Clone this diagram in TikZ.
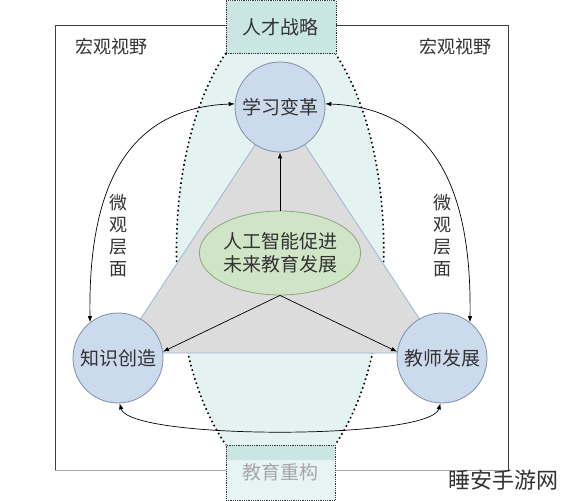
\documentclass[tikz,border=0pt]{standalone}
\usepackage{fontspec}
\setmainfont{Noto Sans CJK SC}
\usetikzlibrary{shapes.geometric,arrows.meta}
\definecolor{circfill}{HTML}{CCDAEE}
\definecolor{circline}{HTML}{7F8FA8}
\definecolor{trifill}{HTML}{DCDCDC}
\definecolor{triline}{HTML}{9FB5D0}
\definecolor{lensfill}{HTML}{E4F3F1}
\definecolor{boxfill}{HTML}{C9E6E4}
\definecolor{boxfilltwo}{HTML}{E6F4F4}
\definecolor{ellfill}{HTML}{CFE5C6}
\definecolor{ellline}{HTML}{8AA880}
\definecolor{txt}{HTML}{333333}
\tikzset{
  topic/.style={circle,draw=circline,fill=circfill,line width=0.8pt,minimum size=90pt,inner sep=0pt,font=\fontsize{19}{21}\selectfont,text=txt},
  core/.style={ellipse,draw=ellline,fill=ellfill,line width=0.8pt,minimum width=154pt,minimum height=84pt,inner sep=0pt,align=center,font=\fontsize{19}{23.5}\selectfont,text=txt},
  labeltext/.style={font=\fontsize{18}{21}\selectfont,text=txt,inner sep=0pt},
  vlabel/.style={font=\fontsize{18}{22}\selectfont,text=txt,align=center,inner sep=0pt},
  arr/.style={draw=black,line width=0.7pt,-{Latex[length=6pt,width=4.5pt]}},
  darr/.style={draw=black,line width=0.7pt,{Latex[length=6pt,width=4.5pt]}-{Latex[length=6pt,width=4.5pt]}},
  dotline/.style={draw=black,line width=1.6pt,dash pattern=on 1.6pt off 3pt},
  framebox/.style={draw=black!80,line width=0.8pt,densely dotted},
}
\begin{document}
\begin{tikzpicture}[x=1pt,y=-1pt]
\useasboundingbox (0,0) rectangle (564,500);
\fill[white] (0,0) rectangle (564,500);
% outer frame
\coordinate (fTL) at (55,25);
\coordinate (fTR) at (508,25);
\coordinate (fBL) at (55,470);
\coordinate (fBR) at (508,470);
\draw[black!75,line width=0.9pt] (fTL) -- (fTR) -- (fBR);
\draw[black!75,line width=0.9pt] (fTL) -- (fBL);
\draw[black!35,line width=0.9pt] (fBL) -- (fBR);
% lens
\coordinate (lTL) at (226,53);
\coordinate (lTR) at (335,53);
\coordinate (lBL) at (226,445);
\coordinate (lBR) at (335,445);
\fill[lensfill] (lTL) .. controls (160,150) and (160,350) .. (lBL) -- (lBR) .. controls (400,350) and (400,150) .. (lTR) -- cycle;
\draw[dotline] (lTL) .. controls (160,150) and (160,350) .. (lBL);
\draw[dotline] (lTR) .. controls (400,150) and (400,350) .. (lBR);
% boxes
\node[framebox,fill=boxfill,minimum width=110pt,minimum height=53pt,anchor=north west,inner sep=0pt,font=\fontsize{19}{21}\selectfont,text=txt] (talent) at (225.5,0.5) {人才战略};
\fill[boxfilltwo] (225.5,445) rectangle (335,499.5);
\fill[boxfill] (225.5,445) rectangle (335,460);
\node[framebox,minimum width=109.5pt,minimum height=54.5pt,anchor=north west,inner sep=0pt] (reform) at (225.5,445) {};
\node[font=\fontsize{19}{21}\selectfont,text=black!35] (reformtext) at (280,472) {教育重构};
% triangle
\coordinate (cT) at (280,107);
\coordinate (cL) at (118,358);
\coordinate (cR) at (442,358);
\coordinate (tL) at (118,353);
\coordinate (tR) at (442,353);
\draw[fill=trifill,draw=triline,line width=0.8pt] (cT) -- (tL) -- (tR) -- cycle;
% circles
\node[topic] (learn) at (cT) {学习变革};
\node[topic] (know) at (cL) {知识创造};
\node[topic] (teach) at (cR) {教师发展};
% core
\node[core] (ai) at (280,253) {人工智能促进\\未来教育发展};
% curved arrows
\draw[darr] (learn.176) .. controls (125,108) and (88,190) .. (know.128);
\draw[darr] (learn.4) .. controls (435,108) and (472,190) .. (teach.52);
\draw[darr] (know.-88) .. controls (130,440) and (430,440) .. (teach.-92);
% straight arrows
\draw[arr] (ai.north) -- (learn.south);
\draw[arr] (ai.south) -- (know.8);
\draw[arr] (ai.south) -- (teach.172);
% labels
\node[labeltext] (macroL) at (111,47) {宏观视野};
\node[labeltext] (macroR) at (455,47) {宏观视野};
\node[vlabel] (microL) at (118,236) {微\\观\\层\\面};
\node[vlabel] (microR) at (442,236) {微\\观\\层\\面};
% watermark
\node[font=\fontsize{22}{24}\selectfont,text=black!80,anchor=west,inner sep=0pt] (wm) at (448,480) {睡安手游网};
\end{tikzpicture}
\end{document}
